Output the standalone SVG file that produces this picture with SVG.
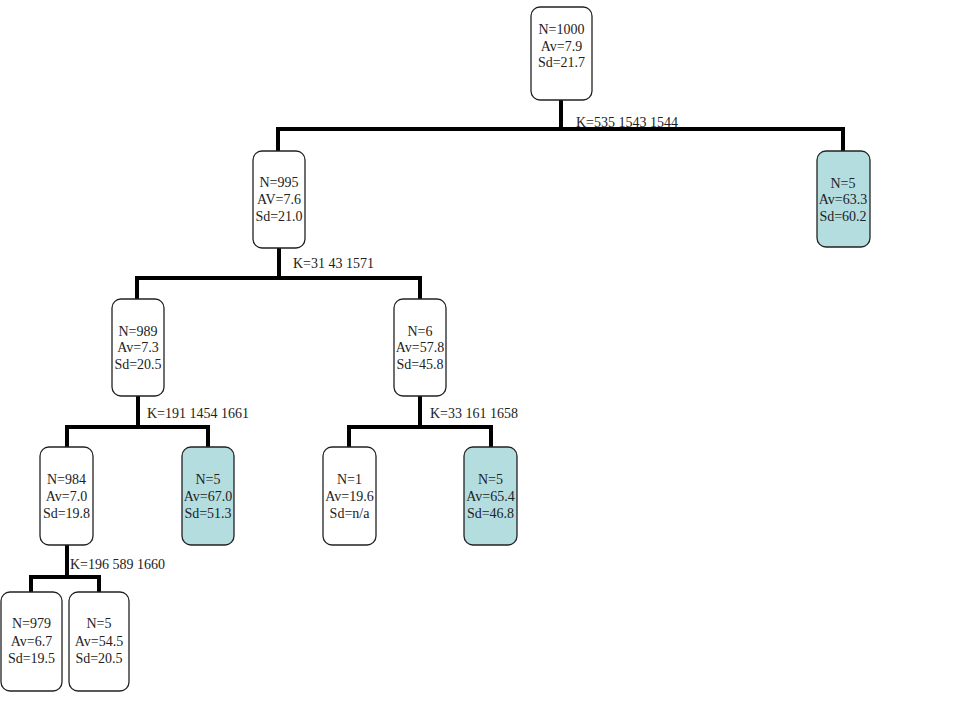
<svg xmlns="http://www.w3.org/2000/svg" width="974" height="712" viewBox="0 0 974 712">
<style>
.box{fill:#fff;stroke:#222;stroke-width:1.3}
.leaf{fill:#b4dde0;stroke:#222;stroke-width:1.3}
.t{font-family:"Liberation Serif","Times New Roman",serif;font-size:14px;fill:#222;text-anchor:middle}
.k{font-family:"Liberation Serif","Times New Roman",serif;font-size:14px;fill:#222}
.c{fill:none;stroke:#000;stroke-width:4;stroke-linejoin:miter;stroke-linecap:butt}
</style>
<rect width="974" height="712" fill="#fff"/>
<g id="connectors">
<path class="c" d="M561,100 V129 M278,151 V129 H843 V151"/>
<path class="c" d="M279,248 V278 M137,299 V278 H420 V299"/>
<path class="c" d="M138,396 V427 M67,447 V427 H208 V447"/>
<path class="c" d="M420,396 V427 M349,447 V427 H491 V447"/>
<path class="c" d="M67,545 V577 M31,592 V577 H99 V592"/>
<text class="k" x="576" y="127">K=535 1543 1544</text>
<text class="k" x="293" y="268">K=31 43 1571</text>
<text class="k" x="147" y="418">K=191 1454 1661</text>
<text class="k" x="430" y="418">K=33 161 1658</text>
<text class="k" x="70" y="569">K=196 589 1660</text>
</g>
<g id="n1000">
<rect class="box" x="531" y="7" width="61" height="93" rx="9"/>
<text class="t" x="561.5" y="34">N=1000</text><text class="t" x="561.5" y="51">Av=7.9</text><text class="t" x="561.5" y="67">Sd=21.7</text>
</g>
<g id="n995">
<rect class="box" x="253" y="151" width="52" height="97" rx="9"/>
<text class="t" x="279" y="187">N=995</text><text class="t" x="279" y="204">AV=7.6</text><text class="t" x="279" y="221">Sd=21.0</text>
</g>
<g id="n5a">
<rect class="leaf" x="817" y="151" width="53" height="96" rx="9"/>
<text class="t" x="843" y="188">N=5</text><text class="t" x="843" y="204">Av=63.3</text><text class="t" x="843" y="221">Sd=60.2</text>
</g>
<g id="n989">
<rect class="box" x="112" y="299" width="52" height="97" rx="9"/>
<text class="t" x="138" y="336">N=989</text><text class="t" x="138" y="352">Av=7.3</text><text class="t" x="138" y="369">Sd=20.5</text>
</g>
<g id="n6">
<rect class="box" x="394" y="299" width="52" height="97" rx="9"/>
<text class="t" x="420" y="336">N=6</text><text class="t" x="420" y="352">Av=57.8</text><text class="t" x="420" y="369">Sd=45.8</text>
</g>
<g id="n984">
<rect class="box" x="40" y="447" width="53" height="98" rx="9"/>
<text class="t" x="66.5" y="484">N=984</text><text class="t" x="66.5" y="501">Av=7.0</text><text class="t" x="66.5" y="518">Sd=19.8</text>
</g>
<g id="n5b">
<rect class="leaf" x="182" y="447" width="52" height="98" rx="9"/>
<text class="t" x="208" y="484">N=5</text><text class="t" x="208" y="501">Av=67.0</text><text class="t" x="208" y="518">Sd=51.3</text>
</g>
<g id="n1">
<rect class="box" x="323" y="447" width="53" height="98" rx="9"/>
<text class="t" x="349.5" y="484">N=1</text><text class="t" x="349.5" y="501">Av=19.6</text><text class="t" x="349.5" y="518">Sd=n/a</text>
</g>
<g id="n5c">
<rect class="leaf" x="464" y="447" width="53" height="98" rx="9"/>
<text class="t" x="490.5" y="484">N=5</text><text class="t" x="490.5" y="501">Av=65.4</text><text class="t" x="490.5" y="518">Sd=46.8</text>
</g>
<g id="n979">
<rect class="box" x="1" y="592" width="61" height="99" rx="9"/>
<text class="t" x="31.5" y="628">N=979</text><text class="t" x="31.5" y="646">Av=6.7</text><text class="t" x="31.5" y="663">Sd=19.5</text>
</g>
<g id="n5d">
<rect class="box" x="69" y="592" width="60" height="99" rx="9"/>
<text class="t" x="99" y="628">N=5</text><text class="t" x="99" y="646">Av=54.5</text><text class="t" x="99" y="663">Sd=20.5</text>
</g>
</svg>
